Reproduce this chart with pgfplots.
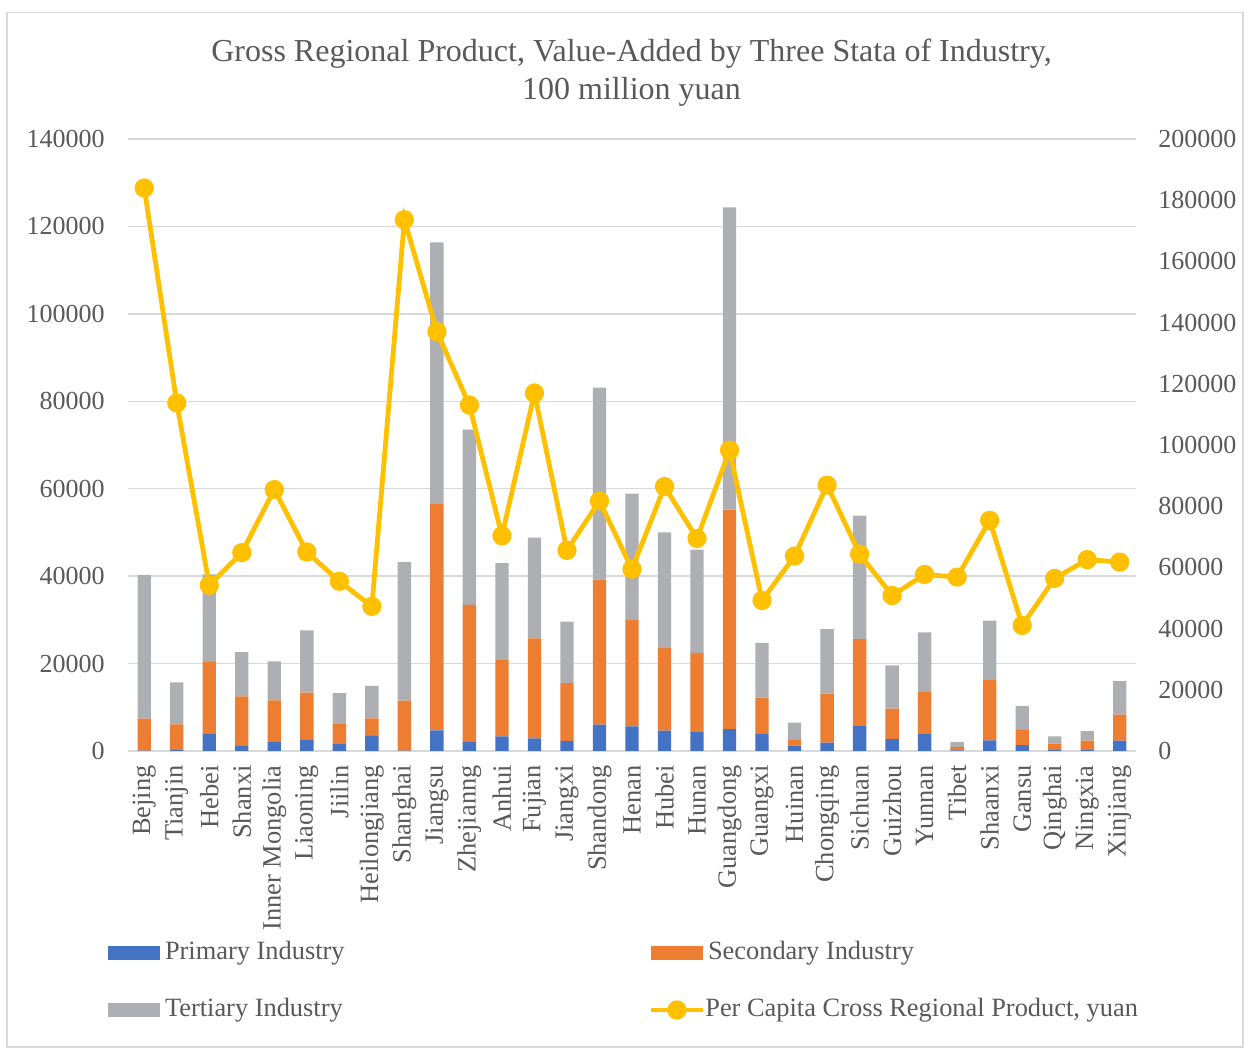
\documentclass[border=0pt]{standalone}
\usepackage{fontspec}
\setmainfont{Liberation Serif}
\usepackage{pgfplots}
\usepackage{pgfplotstable}
\pgfplotsset{compat=1.18}

\definecolor{cblue}{HTML}{4472C4}
\definecolor{corange}{HTML}{ED7D31}
\definecolor{cgray}{HTML}{AEAFB3}
\definecolor{cyellow}{HTML}{FFC000}
\definecolor{txt}{HTML}{595959}
\definecolor{gridc}{HTML}{D9D9D9}

\newcommand\tickfont{\fontsize{13}{15.6}\selectfont}
\newcommand\legfont{\fontsize{13.2}{15.8}\selectfont}
\newcommand\titlefont{\fontsize{16}{19.2}\selectfont}

\pgfplotstableread{
x pri sec ter pc
0 111.3 7268.6 32889.6 183980
1 225.4 5854.3 9615.4 113732
2 4030.3 16364.2 19996.7 54172
3 1286.9 11213.1 10090.2 64821
4 2225.2 9374.2 8914.8 85422
5 2461.8 10875.2 14247.1 65026
6 1553.8 4768.3 6913.4 55450
7 3463.0 3975.3 7440.9 47266
8 99.97 11449.3 31665.6 173630
9 4722.4 51775.4 59866.4 137039
10 2209.1 31188.6 40118.1 113032
11 3360.6 17613.2 21985.4 70321
12 2897.7 22866.7 23046.0 116939
13 2334.3 13183.2 14102.2 65560
14 6029.0 33187.2 43879.7 81727
15 5620.8 24331.7 28934.9 59410
16 4661.7 18952.9 26398.4 86416
17 4322.9 18126.1 23614.1 69440
18 5003.7 50219.2 69146.8 98285
19 4015.5 8187.9 12537.4 49206
20 1254.4 1238.8 3982.0 63707
21 1922.0 11184.9 14787.1 86879
22 5661.9 19901.4 28287.6 64326
23 2730.9 6984.7 9870.8 50808
24 3870.2 9589.4 13687.2 57686
25 164.1 757.4 1158.7 56831
26 2409.4 13802.5 13589.1 75360
27 1364.7 3466.6 5412.0 41046
28 352.7 1332.6 1661.3 56398
29 364.5 2021.6 2136.1 62549
30 2356.1 5967.4 7660.1 61725
}\datatable

\begin{document}
\begin{tikzpicture}
\path[use as bounding box] (0,0) rectangle (622pt,524pt);
\draw[color=gridc, line width=0.75pt] (3.6pt,0.4pt) rectangle (621.6pt,517.75pt);

\node[anchor=base, font=\titlefont, text=txt] at (315.75pt,493.2pt) {Gross Regional Product, Value-Added by Three Stata of Industry,};
\node[anchor=base, font=\titlefont, text=txt] at (315.75pt,474.2pt) {100 million yuan};

\begin{axis}[
  at={(64pt,148.5pt)}, anchor=south west,
  scale only axis, width=504pt, height=306pt,
  xmin=-0.5, xmax=30.5, ymin=0, ymax=140000,
  ytick={0,20000,40000,60000,80000,100000,120000,140000},
  yticklabels={0,20000,40000,60000,80000,100000,120000,140000},
  scaled y ticks=false,
  ybar stacked, bar width=6.67pt,
  xtick={0,...,30},
  xticklabels={Bejing,Tianjin,Hebei,Shanxi,Inner Mongolia,Liaoning,Jiilin,Heilongjiang,Shanghai,Jiangsu,Zhejianng,Anhui,Fujian,Jiangxi,Shandong,Henan,Hubei,Hunan,Guangdong,Guangxi,Huinan,Chongqing,Sichuan,Guizhou,Yunnan,Tibet,Shaanxi,Gansu,Qinghai,Ningxia,Xinjiang},
  axis line style={draw=none},
  major tick length=0pt,
  xtick pos=bottom, ytick pos=left,
  ymajorgrids, grid style={color=gridc, line width=0.75pt},
  yticklabel style={font=\tickfont, text=txt, anchor=east, inner sep=0pt, xshift=-11.5pt},
  xticklabel style={font=\legfont, text=txt, inner sep=0pt, yshift=-7pt, rotate=90, anchor=east},
  legend columns=2,
  legend cell align=left,
  legend image code/.code={\fill[#1] (0pt,-3.5pt) rectangle (26pt,3.5pt);},
  legend style={at={(-0.01984,-0.3096)}, anchor=north west, draw=none, fill=none,
    inner sep=0pt, outer sep=0pt, font=\legfont, text=txt,
    nodes={inner sep=0pt, text height=9.5pt, text depth=3pt},
    row sep=16pt,
    /tikz/every odd column/.append style={column sep=2.5pt}},
]
\addplot[fill=cblue, draw=none] table[x=x, y=pri] {\datatable};
\addlegendentry{\makebox[243pt][l]{Primary Industry}}
\addplot[fill=corange, draw=none] table[x=x, y=sec] {\datatable};
\addlegendentry{Secondary Industry}
\addplot[fill=cgray, draw=none] table[x=x, y=ter] {\datatable};
\addlegendentry{\makebox[243pt][l]{Tertiary Industry}}
\end{axis}

\begin{axis}[
  at={(64pt,148.5pt)}, anchor=south west,
  scale only axis, width=504pt, height=306pt,
  xmin=-0.5, xmax=30.5, ymin=0, ymax=200000,
  ytick={0,20000,40000,60000,80000,100000,120000,140000,160000,180000,200000},
  yticklabels={0,20000,40000,60000,80000,100000,120000,140000,160000,180000,200000},
  scaled y ticks=false,
  axis line style={draw=none},
  major tick length=0pt,
  xtick=\empty,
  ytick pos=right, yticklabel pos=right,
  yticklabel style={font=\tickfont, text=txt, anchor=west, inner sep=0pt, xshift=11pt},
  legend image code/.code={\draw[mark repeat=2,mark phase=2,#1] plot coordinates {(0pt,0pt) (13pt,0pt) (26pt,0pt)};},
  legend style={at={(0.5164,-0.4028)}, anchor=north west, draw=none, fill=none,
    inner sep=0pt, outer sep=0pt, font=\legfont, text=txt,
    nodes={inner sep=0pt, text height=9.5pt, text depth=3pt},
    /tikz/every odd column/.append style={column sep=0pt}},
]
\addplot[color=cyellow, line width=2.4pt, mark=*, mark size=3.6pt, mark options={fill=cyellow, draw=none}] table[x=x, y=pc] {\datatable};
\addlegendentry{Per Capita Cross Regional Product, yuan}
\end{axis}
\end{tikzpicture}
\end{document}
